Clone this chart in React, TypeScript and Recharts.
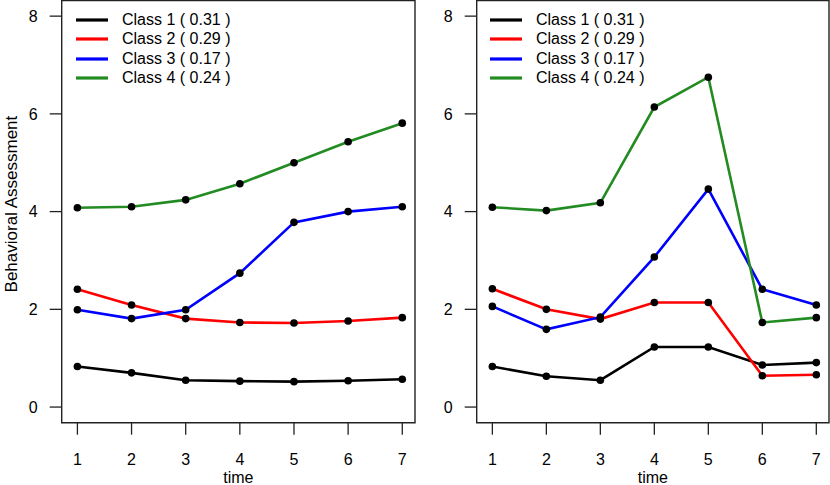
import React from 'react';
import {
  LineChart,
  Line,
  XAxis,
  YAxis,
  ReferenceArea,
  Legend,
} from 'recharts';

// time points and legend names
const times = [1, 2, 3, 4, 5, 6, 7];
const classNames = ['Class 1 ( 0.31 )', 'Class 2 ( 0.29 )', 'Class 3 ( 0.17 )', 'Class 4 ( 0.24 )'];
const classColors = ['#000000', '#ff0000', '#0000ff', '#228b22'];
const yTicks = [0, 2, 4, 6, 8];

// left panel
const leftClass1 = [0.83, 0.70, 0.55, 0.53, 0.52, 0.54, 0.57];
const leftClass2 = [2.41, 2.09, 1.81, 1.73, 1.72, 1.76, 1.83];
const leftClass3 = [1.99, 1.81, 1.99, 2.74, 3.78, 4.00, 4.10];
const leftClass4 = [4.08, 4.10, 4.24, 4.57, 5.00, 5.43, 5.81];

// right panel
const rightClass1 = [0.83, 0.63, 0.55, 1.23, 1.23, 0.86, 0.91];
const rightClass2 = [2.42, 2.00, 1.80, 2.14, 2.14, 0.64, 0.66];
const rightClass3 = [2.06, 1.59, 1.84, 3.07, 4.46, 2.41, 2.09];
const rightClass4 = [4.09, 4.02, 4.18, 6.14, 6.75, 1.73, 1.83];

const X_DOMAIN: [number, number] = [0.71, 7.235];
const Y_DOMAIN: [number, number] = [-0.32, 8.32];
const FONT = '"Liberation Sans", Arial, sans-serif';
const BOX = '#222';

const buildRows = (series: number[][]) =>
  times.map((t, i) => ({
    time: t,
    c1: series[0][i],
    c2: series[1][i],
    c3: series[2][i],
    c4: series[3][i],
  }));

const leftData = buildRows([leftClass1, leftClass2, leftClass3, leftClass4]);
const rightData = buildRows([rightClass1, rightClass2, rightClass3, rightClass4]);

const renderLegend = (props: any) => {
  const { payload } = props;
  return (
    <ul style={{ margin: 0, padding: 0, listStyle: 'none', fontFamily: FONT, fontSize: 16, color: '#000' }}>
      {(payload || []).map((entry: any) => (
        <li key={entry.value} style={{ height: 19.3, display: 'flex', alignItems: 'center', whiteSpace: 'nowrap' }}>
          <svg width={32} height={4} style={{ display: 'block' }}>
            <line x1={0} y1={2} x2={32} y2={2} stroke={entry.color} strokeWidth={3.2} />
          </svg>
          <span style={{ marginLeft: 14 }}>{entry.value}</span>
        </li>
      ))}
    </ul>
  );
};

type PanelProps = {
  data: Array<Record<string, number>>;
  width: number;
  yAxisWidth: number;
  rightMargin: number;
  legendLeft: number;
  showYLabel: boolean;
};

function Panel({ data, width, yAxisWidth, rightMargin, legendLeft, showYLabel }: PanelProps) {
  const tickStyle = { fill: '#000', fontSize: 16, fontFamily: FONT };
  return (
    <LineChart
      width={width}
      height={485}
      data={data}
      margin={{ top: 0.5, right: rightMargin, bottom: 0, left: 0 }}
    >
      <XAxis
        dataKey="time"
        type="number"
        domain={X_DOMAIN}
        ticks={times}
        allowDataOverflow
        axisLine={false}
        tickLine={{ stroke: BOX, strokeWidth: 1.3 }}
        tickSize={12}
        tickMargin={18.5}
        height={62.3}
        tick={tickStyle}
        label={{ value: 'time', position: 'insideBottom', offset: 2, fill: '#000', fontSize: 16, fontFamily: FONT }}
      />
      <YAxis
        type="number"
        domain={Y_DOMAIN}
        ticks={yTicks}
        allowDataOverflow
        axisLine={false}
        tickLine={{ stroke: BOX, strokeWidth: 1.3 }}
        tickSize={12}
        tickMargin={12}
        width={yAxisWidth}
        tick={tickStyle}
        label={
          showYLabel
            ? {
                value: 'Behavioral Assessment',
                angle: -90,
                position: 'insideLeft',
                offset: 10.7,
                dy: -7.5,
                fill: '#000',
                fontSize: 17,
                fontFamily: FONT,
                style: { textAnchor: 'middle' },
              }
            : undefined
        }
      />
      <ReferenceArea
        x1={X_DOMAIN[0]}
        x2={X_DOMAIN[1]}
        y1={Y_DOMAIN[0]}
        y2={Y_DOMAIN[1]}
        fill="none"
        fillOpacity={0}
        stroke={BOX}
        strokeWidth={1.4}
      />
      <Legend
        layout="vertical"
        align="center"
        verticalAlign="middle"
        content={renderLegend}
        wrapperStyle={{ left: legendLeft, top: 10.4, width: 'auto', height: 'auto' }}
      />
      {['c1', 'c2', 'c3', 'c4'].map((key, i) => (
        <Line
          key={key}
          dataKey={key}
          name={classNames[i]}
          stroke={classColors[i]}
          strokeWidth={2.6}
          dot={{ r: 3.8, fill: '#000', stroke: 'none' }}
          activeDot={false}
          isAnimationActive={false}
        />
      ))}
    </LineChart>
  );
}

export default function App() {
  return (
    <div style={{ position: 'absolute', left: 0, top: 0, width: 830, height: 485, background: '#fff' }}>
      <div style={{ position: 'absolute', left: 0, top: 0 }}>
        <Panel data={leftData} width={420} yAxisWidth={61.7} rightMargin={5} legendLeft={76} showYLabel />
      </div>
      <div style={{ position: 'absolute', left: 420, top: 0 }}>
        <Panel data={rightData} width={410} yAxisWidth={56.7} rightMargin={1} legendLeft={70} showYLabel={false} />
      </div>
    </div>
  );
}
